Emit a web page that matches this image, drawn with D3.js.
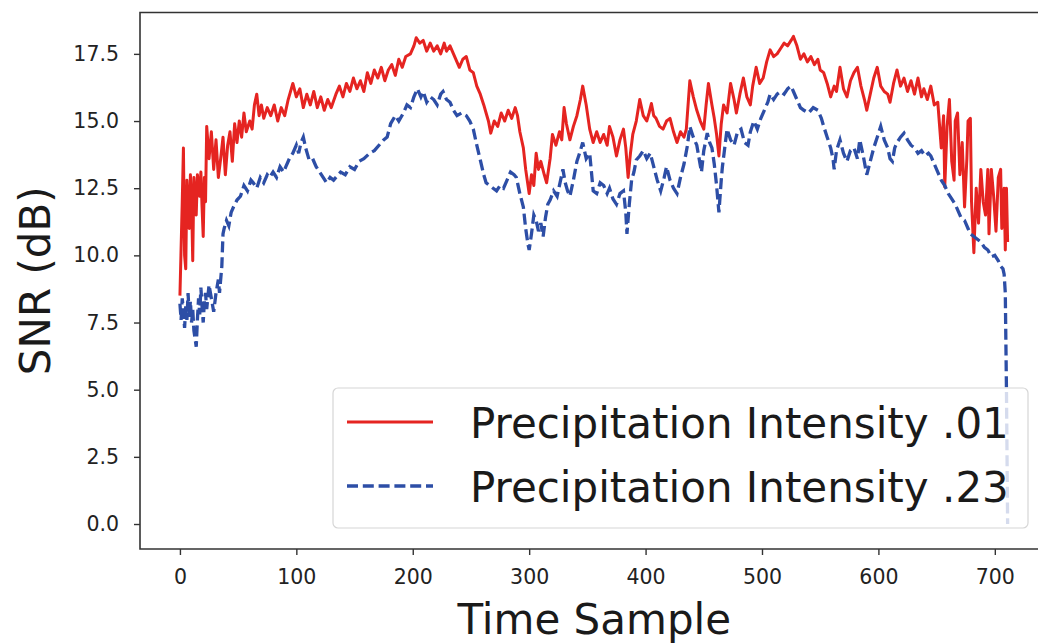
<!DOCTYPE html>
<html>
<head>
<meta charset="utf-8">
<script src="https://cdn.jsdelivr.net/npm/d3@7"></script>
<style>
  body { margin: 0; background: #fff; }
  text { font-family: "DejaVu Sans", sans-serif; }
</style>
</head>
<body>
<script>
var redT = [0,2,3,4,5,6,8,9,10,11,12,14,15,17,18,19,20,21,22,23,25,27,29,31,33,35,37,39,41,43,45,47,49,51,53,55,57,60,62,64,66,68,70,72,75,78,81,84,87,90,93,97,100,103,106,109,112,115,118,121,124,127,130,134,137,140,143,146,149,152,155,158,161,164,167,170,173,176,179,182,185,188,191,194,198,201,203,206,209,212,215,218,221,224,227,229,232,236,240,243,246,249,252,255,258,261,263,265,267,270,273,276,279,282,285,288,290,292,295,297,300,302,304,306,308,310,313,315,318,320,323,326,328,330,332,335,338,341,344,346,349,352,355,358,361,364,367,369,372,375,378,381,383,385,387,389,392,395,398,401,403,405,407,409,412,415,418,421,424,427,430,433,435,438,441,444,447,450,452,454,457,459,461,463,465,467,470,473,476,478,481,484,487,490,492,495,498,501,504,507,510,513,516,519,522,525,527,530,533,536,539,542,545,548,550,553,556,559,562,564,567,570,573,576,579,582,585,588,590,593,596,599,602,605,608,610,613,616,619,622,625,628,631,634,637,639,642,645,648,651,654,656,657,659,661,663,665,666,668,670,672,674,676,677,679,680,682,684,686,688,690,692,694,695,697,699,701,703,705,706,708,709,710,711];
var redSNR = [8.5,12.0,14.0,10.0,9.5,12.8,11.0,13.0,12.0,9.8,12.9,11.5,13.0,12.2,13.1,11.8,10.7,12.9,12.0,14.8,13.6,14.6,13.2,14.3,12.9,13.6,14.4,13.0,14.1,14.6,13.5,14.9,14.2,15.0,14.4,15.3,14.6,15.0,14.7,15.6,16.0,15.2,15.6,15.1,15.5,15.2,15.6,15.0,15.5,15.2,15.8,16.4,15.9,16.2,15.5,16.0,15.6,16.1,15.5,15.9,15.4,15.8,15.5,16.0,16.3,15.9,16.4,16.1,16.6,16.2,16.5,16.1,16.8,16.4,16.9,16.6,17.0,16.5,16.9,17.1,16.7,17.3,17.0,17.4,17.5,17.8,18.1,17.9,18.0,17.6,17.9,17.6,17.8,17.5,17.9,17.6,17.8,17.4,17.0,17.3,17.4,16.9,16.8,16.3,16.0,15.6,15.3,15.0,14.55,15.0,14.8,15.3,15.0,15.4,15.1,15.5,15.2,14.6,14.0,13.2,12.3,13.0,12.6,13.8,13.2,13.5,13.0,12.7,13.6,14.5,14.1,14.6,14.3,15.5,14.9,14.3,14.8,15.2,15.8,16.3,15.6,14.7,14.2,14.6,14.2,14.5,14.1,14.8,14.4,13.7,14.3,14.7,14.0,12.9,13.8,14.5,15.0,15.8,15.2,15.0,15.3,15.65,15.2,15.1,14.8,14.7,15.0,15.1,14.6,14.2,14.6,14.4,14.7,16.5,15.9,15.4,15.0,14.7,15.6,16.4,15.6,15.1,14.5,13.7,14.9,15.6,15.3,16.4,15.8,15.3,16.0,16.6,15.9,15.6,16.3,17.0,16.4,16.6,17.2,17.65,17.4,17.5,17.7,17.9,17.8,18.0,18.15,17.8,17.3,17.5,17.2,17.4,17.1,17.3,16.9,16.8,16.4,15.9,16.3,16.1,17.0,16.2,15.9,16.5,16.8,17.0,16.3,15.8,15.4,16.0,16.6,17.0,16.3,16.1,16.0,15.7,16.4,16.9,16.3,16.6,16.1,16.5,16.0,16.6,15.9,16.2,15.8,16.3,15.6,15.7,14.0,15.2,12.55,14.8,15.8,13.5,12.8,15.0,15.3,13.0,14.2,11.8,13.6,15.0,15.1,12.0,10.1,12.5,11.2,13.2,12.0,11.5,13.2,10.8,13.2,12.2,10.9,12.9,13.2,11.0,12.5,10.2,12.5,10.5];

var blueT = [0,1,2,3,4,5,6,7,8,9,10,11,12,13,14,15,16,17,18,19,20,21,22,23,25,27,29,31,33,34,36,37,38,40,42,44,46,49,52,55,58,61,63,66,69,72,75,77,80,83,86,89,91,94,97,100,102,104,106,108,111,114,117,120,123,126,129,132,134,138,142,146,150,154,158,163,167,171,175,178,181,185,188,192,195,198,201,204,207,209,212,215,218,221,224,226,229,232,235,238,242,246,249,252,255,258,261,263,266,269,272,275,278,281,284,287,289,292,295,297,299,300,302,304,306,308,310,312,314,316,318,321,324,327,329,331,333,335,338,341,344,346,349,352,355,358,361,364,367,369,372,375,378,381,383,384,386,388,390,392,395,398,401,404,407,410,413,416,418,421,424,427,430,433,436,438,441,444,446,448,450,453,455,457,459,461,463,465,466,468,470,473,476,479,482,485,488,490,493,496,499,502,505,507,510,513,516,519,522,525,527,530,533,536,540,544,548,551,553,556,559,561,562,564,567,570,573,576,579,582,584,587,590,593,596,599,602,605,608,610,612,614,616,619,622,625,628,631,634,637,640,643,645,648,651,654,657,660,663,666,669,671,674,677,679,682,685,688,691,694,697,700,703,705,707,708,709,710,711];
var blueSNR = [8.2,7.6,8.4,7.9,7.3,8.1,7.6,8.6,7.7,8.3,7.5,8.0,7.2,6.9,6.6,7.6,8.4,7.8,8.8,8.1,7.5,8.3,8.6,8.0,8.9,8.4,7.9,8.6,9.1,8.6,9.6,10.8,11.0,11.3,11.1,11.6,11.8,12.06,12.2,12.6,12.4,12.8,12.7,12.5,12.9,12.7,13.0,12.9,13.1,12.9,13.3,13.1,13.3,13.6,13.8,14.1,13.8,14.2,14.4,14.0,13.55,13.6,13.3,13.1,12.9,12.7,12.9,12.8,12.9,13.1,13.0,13.3,13.2,13.5,13.6,13.8,13.9,14.1,14.3,14.4,14.9,15.2,15.0,15.3,15.6,15.5,15.9,16.2,15.9,16.1,15.7,15.9,15.8,15.6,16.0,16.1,15.8,15.7,15.4,15.2,15.3,15.2,15.0,14.7,14.1,13.55,13.0,12.7,12.6,12.5,12.4,12.6,12.5,12.8,13.1,13.0,12.9,12.3,11.8,11.0,10.4,10.2,10.8,11.5,11.3,10.9,11.2,10.7,11.4,11.9,12.06,12.4,12.2,12.8,13.2,12.7,12.4,12.2,12.8,13.5,13.9,14.2,13.6,13.8,12.4,12.3,12.7,12.6,12.3,12.5,12.1,11.9,12.3,12.4,11.6,10.8,11.9,12.8,13.1,13.55,13.7,13.9,13.6,13.8,13.3,12.8,12.4,12.9,13.3,12.8,12.5,12.3,12.9,13.4,14.1,14.8,14.4,14.1,13.6,13.1,13.9,14.55,14.2,14.0,13.4,12.6,11.6,12.8,13.3,14.0,14.7,14.3,14.1,14.6,14.7,14.2,14.1,14.6,15.0,14.7,15.1,15.4,15.7,16.0,15.8,16.0,16.1,16.0,16.2,16.3,16.1,15.8,15.5,15.4,15.3,15.5,15.4,15.1,14.8,14.4,14.0,13.6,13.2,13.9,14.3,13.8,13.5,13.9,14.0,13.6,14.3,13.7,13.0,13.5,14.0,14.4,14.8,14.3,14.0,13.6,13.5,14.0,14.2,14.4,14.55,14.3,14.1,14.0,13.8,13.9,13.7,13.8,13.7,13.4,13.1,12.8,12.6,12.3,12.1,11.9,11.6,11.4,11.3,11.0,10.8,10.7,10.6,10.5,10.3,10.2,9.95,10.0,9.8,9.6,9.5,9.3,8.6,5.0,0.0];

var xTicks = [0, 100, 200, 300, 400, 500, 600, 700];
var yTicks = [0, 2.5, 5, 7.5, 10, 12.5, 15, 17.5];
var seriesNames = ["Precipitation Intensity .01", "Precipitation Intensity .23"];

var W = 1038, H = 644;
var plotLeft = 140, plotTop = 12.5, plotRight = 1048.6, plotBottom = 549;

var x = d3.scaleLinear().domain([-34.3, 746.2]).range([plotLeft, plotRight]);
var y = d3.scaleLinear().domain([-0.93, 19.04]).range([plotBottom, plotTop]);

var svg = d3.select("body").append("svg")
    .attr("width", W)
    .attr("height", H);

svg.append("clipPath").attr("id", "plotclip")
  .append("rect")
    .attr("x", plotLeft).attr("y", plotTop)
    .attr("width", plotRight - plotLeft).attr("height", plotBottom - plotTop);

var red = "#e52421", blue = "#2d4ea6";

function toPoints(ts, vs) {
    return ts.map(function(t, i) { return [t, vs[i]]; });
}

var line = d3.line()
    .x(function(d) { return x(d[0]); })
    .y(function(d) { return y(d[1]); });

var plot = svg.append("g").attr("clip-path", "url(#plotclip)");

plot.append("path")
    .attr("d", line(toPoints(redT, redSNR)))
    .attr("fill", "none")
    .attr("stroke", red)
    .attr("stroke-width", 3)
    .attr("stroke-linejoin", "round");

plot.append("path")
    .attr("d", line(toPoints(blueT, blueSNR)))
    .attr("fill", "none")
    .attr("stroke", blue)
    .attr("stroke-width", 3.3)
    .attr("stroke-dasharray", "11,4.8");

// axes (matplotlib-ish)
var xAxis = svg.append("g")
    .attr("transform", "translate(0," + plotBottom + ")")
    .call(d3.axisBottom(x).tickValues(xTicks).tickSize(6).tickPadding(14).tickSizeOuter(0));
var yAxis = svg.append("g")
    .attr("transform", "translate(" + plotLeft + ",0)")
    .call(d3.axisLeft(y).tickValues(yTicks).tickFormat(d3.format(".1f")).tickSize(6).tickPadding(15).tickSizeOuter(0));

[xAxis, yAxis].forEach(function(a) {
    a.select(".domain").remove();
    a.selectAll(".tick line").attr("stroke", "#333").attr("stroke-width", 1.4);
    a.selectAll(".tick text")
        .attr("fill", "#222")
        .style("font-size", "20.5px")
        .style("font-family", "DejaVu Sans");
});

// frame: left, top, bottom spines (right edge falls outside picture)
svg.append("path")
    .attr("d", "M" + plotRight + "," + plotTop + "H" + plotLeft + "V" + plotBottom + "H" + plotRight)
    .attr("fill", "none")
    .attr("stroke", "#333")
    .attr("stroke-width", 1.6);

svg.append("text")
    .attr("x", (plotLeft + plotRight) / 2)
    .attr("y", 634)
    .attr("text-anchor", "middle")
    .attr("fill", "#1a1a1a")
    .style("font-size", "42px")
    .text("Time Sample");

svg.append("text")
    .attr("transform", "translate(50," + (plotTop + plotBottom) / 2 + ") rotate(-90)")
    .attr("text-anchor", "middle")
    .attr("fill", "#1a1a1a")
    .style("font-size", "42px")
    .text("SNR (dB)");

// legend
var lg = svg.append("g");
lg.append("rect")
    .attr("x", 333).attr("y", 388)
    .attr("width", 695).attr("height", 140)
    .attr("rx", 5)
    .attr("fill", "#fff")
    .attr("fill-opacity", 0.8)
    .attr("stroke", "#d6d6d6")
    .attr("stroke-width", 1.2);

var legendRows = [
    {name: seriesNames[0], color: red, dash: null, width: 3},
    {name: seriesNames[1], color: blue, dash: "11,4.8", width: 3.3}
];

legendRows.forEach(function(r, i) {
    var cy = 422 + i * 64;
    lg.append("line")
        .attr("x1", 347).attr("x2", 433)
        .attr("y1", cy).attr("y2", cy)
        .attr("stroke", r.color)
        .attr("stroke-width", r.width)
        .attr("stroke-dasharray", r.dash);
    lg.append("text")
        .attr("x", 470)
        .attr("y", cy + 16)
        .attr("fill", "#1a1a1a")
        .style("font-size", "42px")
        .text(r.name);
});
</script>
</body>
</html>
